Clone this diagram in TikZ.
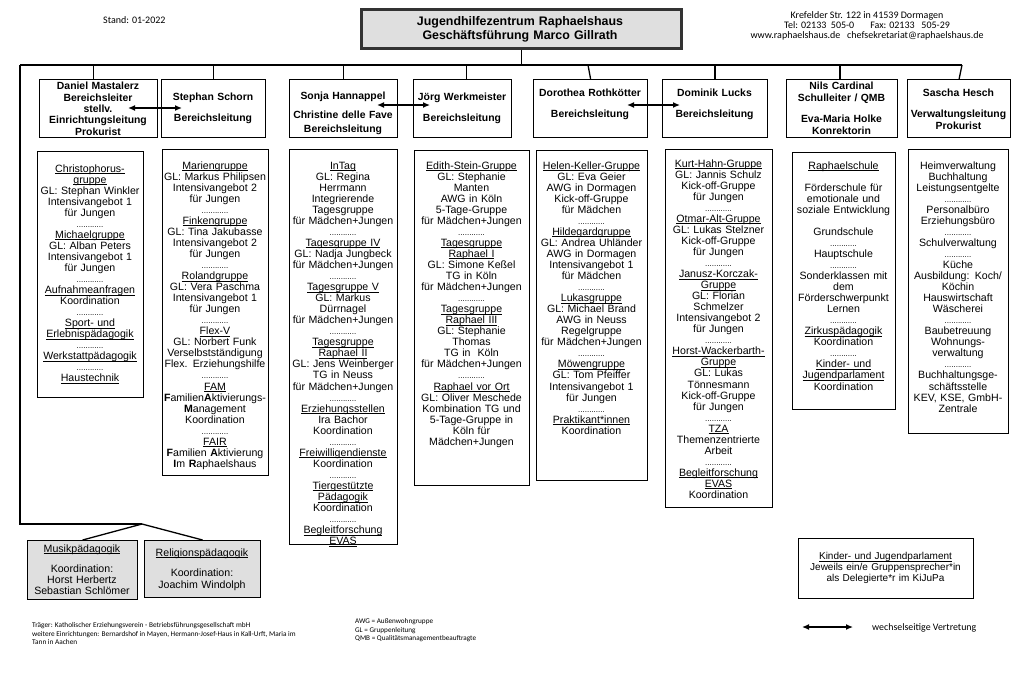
\documentclass[tikz,border=0pt]{standalone}
\usepackage{fontspec}
\setmainfont{Liberation Sans}
\newfontfamily\calfont{Carlito}
\usetikzlibrary{arrows.meta}
\lineskiplimit=-\maxdimen
\newcommand\ulx[1]{\setbox0\hbox{#1}\leavevmode\rlap{\rule[-1.7pt]{\wd0}{0.7pt}}\box0}
\newcommand\dts{{\fontsize{8}{8}\selectfont ............}}
\newcommand\rl{\rule{0pt}{9pt}}
\begin{document}
\begin{tikzpicture}[x=1pt,y=-1pt,
  box/.style={draw=black, line width=1.2pt, inner sep=0, anchor=north west},
  lbl/.style={inner sep=0, align=center, anchor=north, text width=180pt},
  ct/.style={lbl, font=\fontsize{10.6}{11.05}\selectfont},
  ht/.style={lbl, font=\bfseries\fontsize{10.4}{11.3}\selectfont},
  small/.style={inner sep=0, font=\calfont\fontsize{10}{10.3}\selectfont},
  conn/.style={line width=1.3pt},
  busline/.style={line width=1.8pt},
  dbl/.style={line width=1.3pt, {Latex[length=7pt,width=6pt]}-{Latex[length=7pt,width=6pt]}}
]
\useasboundingbox (0,0) rectangle (1024,694);
\fill[white] (0,0) rectangle (1024,694);

% title
\node[box, fill=gray!25, draw=black!80, line width=2.5pt, minimum width=320, minimum height=39] (title) at (360,8) {};
\node[lbl, text width=300pt, font=\bfseries\fontsize{12.4}{13.5}\selectfont] (titletxt) at (520,14.5)
  {\rule{0pt}{11pt}Jugendhilfezentrum Raphaelshaus\\Geschäftsführung Marco Gillrath};

\node[small, anchor=base west] (stand) at (103,23) {Stand: 01-2022};
\node[small, align=center, anchor=north] (addr) at (867,10)
  {\rule{0pt}{8pt}Krefelder Str. 122 in 41539 Dormagen\\
   Tel: 02133\ \ 505-0\hspace{16pt}Fax: 02133\ \ \ 505-29\\
   www.raphaelshaus.de\ \ \ chefsekretariat@raphaelshaus.de};

% header boxes
\node[box, minimum width=118, minimum height=58] (h1) at (39,79) {};
\node[box, minimum width=104, minimum height=58] (h2) at (161,79) {};
\node[box, minimum width=108, minimum height=58] (h3) at (289,79) {};
\node[box, minimum width=98, minimum height=58] (h4) at (413,79) {};
\node[box, minimum width=114, minimum height=58] (h5) at (533,79) {};
\node[box, minimum width=105, minimum height=58] (h6) at (662,79) {};
\node[box, minimum width=111, minimum height=58] (h7) at (786,79) {};
\node[box, minimum width=103, minimum height=58] (h8) at (907,79) {};

\node[ht] (ht1) at (98,80.7) {\rl Daniel Mastalerz\\Bereichsleiter\\stellv.\\Einrichtungsleitung\\Prokurist};
\node[ht] (ht2) at (213,91.7) {\rl Stephan Schorn\\[9.7pt]Bereichsleitung};
\node[ht] (ht3) at (343,90.7) {\rl Sonja Hannappel\\[7.7pt]Christine delle Fave\\[2.7pt]Bereichsleitung};
\node[ht] (ht4) at (462,91.7) {\rl Jörg Werkmeister\\[9.7pt]Bereichsleitung};
\node[ht] (ht5) at (590,87.7) {\rl Dorothea Rothkötter\\[9.7pt]Bereichsleitung};
\node[ht] (ht6) at (714.5,87.7) {\rl Dominik Lucks\\[9.7pt]Bereichsleitung};
\node[ht] (ht7) at (841.5,80.7) {\rl Nils Cardinal\\Schulleiter / QMB\\[9.7pt]Eva-Maria Holke\\[0.7pt]Konrektorin};
\node[ht] (ht8) at (958.5,87.7) {\rl Sascha Hesch\\[9.7pt]Verwaltungsleitung\\Prokurist};

% connectors
\coordinate (busL) at (20,65);
\coordinate (busR) at (962,65);
\coordinate (d5) at (588,65);
\draw[busline] (busL) -- (busR);
\draw[conn] (title.south) -- (title.south |- busL);
\draw[conn] ([xshift=-5pt]h1.north) -- ([xshift=-5pt]h1.north |- busL);
\draw[conn] (h2.north) -- (h2.north |- busL);
\draw[conn] (h3.north) -- (h3.north |- busL);
\draw[conn] ([xshift=4pt]h4.north) -- ([xshift=4pt]h4.north |- busL);
\draw[conn] (d5) -- (h5.north);
\draw[conn] (h6.north) -- (h6.north |- busL);
\draw[conn] ([xshift=-2pt]h7.north) -- ([xshift=-2pt]h7.north |- busL);
\draw[conn] (busR) -- (h8.north);

\coordinate (a1) at (128,108); \coordinate (a2) at (182,108);
\coordinate (a3) at (377,105); \coordinate (a4) at (430,105);
\coordinate (a5) at (627,105); \coordinate (a6) at (680,105);
\draw[dbl] (a1) -- (a2);
\draw[dbl] (a3) -- (a4);
\draw[dbl] (a5) -- (a6);

% column boxes
\node[box, minimum width=106, minimum height=246] (c1) at (37,151) {};
\node[box, minimum width=106, minimum height=326] (c2) at (162,149) {};
\node[box, minimum width=108, minimum height=395] (c3) at (289,149) {};
\node[box, minimum width=115, minimum height=335] (c4) at (414,150) {};
\node[box, minimum width=111, minimum height=330] (c5) at (536,150) {};
\node[box, minimum width=107, minimum height=358] (c6) at (665,149) {};
\node[box, minimum width=103, minimum height=257] (c7) at (792,152) {};
\node[box, minimum width=100, minimum height=284] (c8) at (908,149) {};

\node[ct] (ct1) at (90,162.8) {\rl\ulx{Christophorus-}\\\ulx{gruppe}\\GL: Stephan Winkler\\Intensivangebot 1\\für Jungen\\\dts\\\ulx{Michaelgruppe}\\GL: Alban Peters\\Intensivangebot 1\\für Jungen\\\dts\\\ulx{Aufnahmeanfragen}\\Koordination\\\dts\\\ulx{Sport- und}\\\ulx{Erlebnispädagogik}\\\dts\\\ulx{Werkstattpädagogik}\\\dts\\\ulx{Haustechnik}};

\node[ct] (ct2) at (215,159.8) {\rl\ulx{Mariengruppe}\\GL: Markus Philipsen\\Intensivangebot 2\\für Jungen\\\dts\\\ulx{Finkengruppe}\\GL: Tina Jakubasse\\Intensivangebot 2\\für Jungen\\\dts\\\ulx{Rolandgruppe}\\GL: Vera Paschma\\Intensivangebot 1\\für Jungen\\\dts\\\ulx{Flex-V}\\GL: Norbert Funk\\Verselbstständigung\\Flex. Erziehungshilfe\\\dts\\\ulx{FAM}\\\textbf{F}amilien\textbf{A}ktivierungs-\\\textbf{M}anagement\\Koordination\\\dts\\\ulx{FAIR}\\\textbf{F}amilien \textbf{A}ktivierung\\\textbf{I}m \textbf{R}aphaelshaus};

\node[ct] (ct3) at (343,159.8) {\rl\ulx{InTag}\\GL: Regina\\Herrmann\\Integrierende\\Tagesgruppe\\für Mädchen+Jungen\\\dts\\\ulx{Tagesgruppe IV}\\GL: Nadja Jungbeck\\für Mädchen+Jungen\\\dts\\\ulx{Tagesgruppe V}\\GL: Markus\\Dürrnagel\\für Mädchen+Jungen\\\dts\\\ulx{Tagesgruppe}\\\ulx{Raphael II}\\GL: Jens Weinberger\\TG in Neuss\\für Mädchen+Jungen\\\dts\\\ulx{Erziehungsstellen}\\Ira Bachor\\Koordination\\\dts\\\ulx{Freiwilligendienste}\\Koordination\\\dts\\\ulx{Tiergestützte}\\\ulx{Pädagogik}\\Koordination\\\dts\\\ulx{Begleitforschung}\\\ulx{EVAS}};

\node[ct] (ct4) at (471.5,159.8) {\rl\ulx{Edith-Stein-Gruppe}\\GL: Stephanie\\Manten\\AWG in Köln\\5-Tage-Gruppe\\für Mädchen+Jungen\\\dts\\\ulx{Tagesgruppe}\\\ulx{Raphael I}\\GL: Simone Keßel\\TG in Köln\\für Mädchen+Jungen\\\dts\\\ulx{Tagesgruppe}\\\ulx{Raphael III}\\GL: Stephanie\\Thomas\\TG in\ \ Köln\\für Mädchen+Jungen\\\dts\\\ulx{Raphael vor Ort}\\GL: Oliver Meschede\\Kombination TG und\\5-Tage-Gruppe in\\Köln für\\Mädchen+Jungen};

\node[ct] (ct5) at (591.5,159.8) {\rl\ulx{Helen-Keller-Gruppe}\\GL: Eva Geier\\AWG in Dormagen\\Kick-off-Gruppe\\für Mädchen\\\dts\\\ulx{Hildegardgruppe}\\GL: Andrea Uhländer\\AWG in Dormagen\\Intensivangebot 1\\für Mädchen\\\dts\\\ulx{Lukasgruppe}\\GL: Michael Brand\\AWG in Neuss\\Regelgruppe\\für Mädchen+Jungen\\\dts\\\ulx{Möwengruppe}\\GL: Tom Pfeiffer\\Intensivangebot 1\\für Jungen\\\dts\\\ulx{Praktikant*innen}\\Koordination};

\node[ct] (ct6) at (718.5,157.8) {\rl\ulx{Kurt-Hahn-Gruppe}\\GL: Jannis Schulz\\Kick-off-Gruppe\\für Jungen\\\dts\\\ulx{Otmar-Alt-Gruppe}\\GL: Lukas Stelzner\\Kick-off-Gruppe\\für Jungen\\\dts\\\ulx{Janusz-Korczak-}\\\ulx{Gruppe}\\GL: Florian\\Schmelzer\\Intensivangebot 2\\für Jungen\\\dts\\\ulx{Horst-Wackerbarth-}\\\ulx{Gruppe}\\GL: Lukas\\Tönnesmann\\Kick-off-Gruppe\\für Jungen\\\dts\\\ulx{TZA}\\Themenzentrierte\\Arbeit\\\dts\\\ulx{Begleitforschung}\\\ulx{EVAS}\\Koordination};

\node[ct] (ct7) at (843.5,159.8) {\rl\ulx{Raphaelschule}\\[11.05pt]Förderschule für\\emotionale und\\soziale Entwicklung\\[11.05pt]Grundschule\\\dts\\Hauptschule\\\dts\\Sonderklassen mit\\dem\\Förderschwerpunkt\\Lernen\\\dts\\\ulx{Zirkuspädagogik}\\Koordination\\\dts\\\ulx{Kinder- und}\\\ulx{Jugendparlament}\\Koordination};

\node[ct] (ct8) at (958,159.8) {\rl Heimverwaltung\\Buchhaltung\\Leistungsentgelte\\\dts\\Personalbüro\\Erziehungsbüro\\\dts\\Schulverwaltung\\\dts\\Küche\\Ausbildung: Koch/\\Köchin\\Hauswirtschaft\\Wäscherei\\\dts\\Baubetreuung\\Wohnungs-\\verwaltung\\\dts\\Buchhaltungsge-\\schäftsstelle\\KEV, KSE, GmbH-\\Zentrale};

% bottom left boxes
\node[box, fill=gray!25, minimum width=110, minimum height=59] (mus) at (27,540) {};
\node[box, fill=gray!25, minimum width=116, minimum height=57] (rel) at (144,540) {};
\node[ct] (must) at (82,542.8) {\rl\ulx{Musikpädagogik}\\[9pt]Koordination:\\Horst Herbertz\\Sebastian Schlömer};
\node[ct] (relt) at (202,546.8) {\rl\ulx{Religionspädagogik}\\[9.9pt]Koordination:\\Joachim Windolph};

\coordinate (lc) at (20,524);
\coordinate (fork) at (142,524);
\draw[conn] (busL) -- (lc) -- (fork);
\draw[conn] (fork) -- (mus.north);
\draw[conn] (fork) -- (rel.north);

% KiJuPa box
\node[box, minimum width=175, minimum height=60] (kij) at (798,538) {};
\node[lbl, text width=220pt, font=\fontsize{10}{10.7}\selectfont] (kijt) at (885.5,550.6)
  {\rl\ulx{Kinder- und Jugendparlament}\\Jeweils ein/e Gruppensprecher*in\\als Delegierte*r im KiJuPa};

% legend
\coordinate (l1) at (802,627); \coordinate (l2) at (853,627);
\draw[dbl] (l1) -- (l2);
\node[inner sep=0, anchor=base west, font=\calfont\fontsize{9.9}{10}\selectfont] (legtxt) at (872,630) {wechselseitige Vertretung};

% footer
\node[inner sep=0, anchor=north west, align=left, font=\calfont\fontsize{7.3}{8.6}\selectfont] (foot) at (32,620.2)
  {\rule{0pt}{7pt}Träger: Katholischer Erziehungsverein - Betriebsführungsgesellschaft mbH\\
   weitere Einrichtungen: Bernardshof in Mayen, Hermann-Josef-Haus in Kall-Urft, Maria im\\
   Tann in Aachen};
\node[inner sep=0, anchor=north west, align=left, font=\calfont\fontsize{7.2}{8.6}\selectfont] (abbr) at (355,616.2)
  {\rule{0pt}{7pt}AWG = Außenwohngruppe\\GL = Gruppenleitung\\QMB = Qualitätsmanagementbeauftragte};
\end{tikzpicture}
\end{document}
